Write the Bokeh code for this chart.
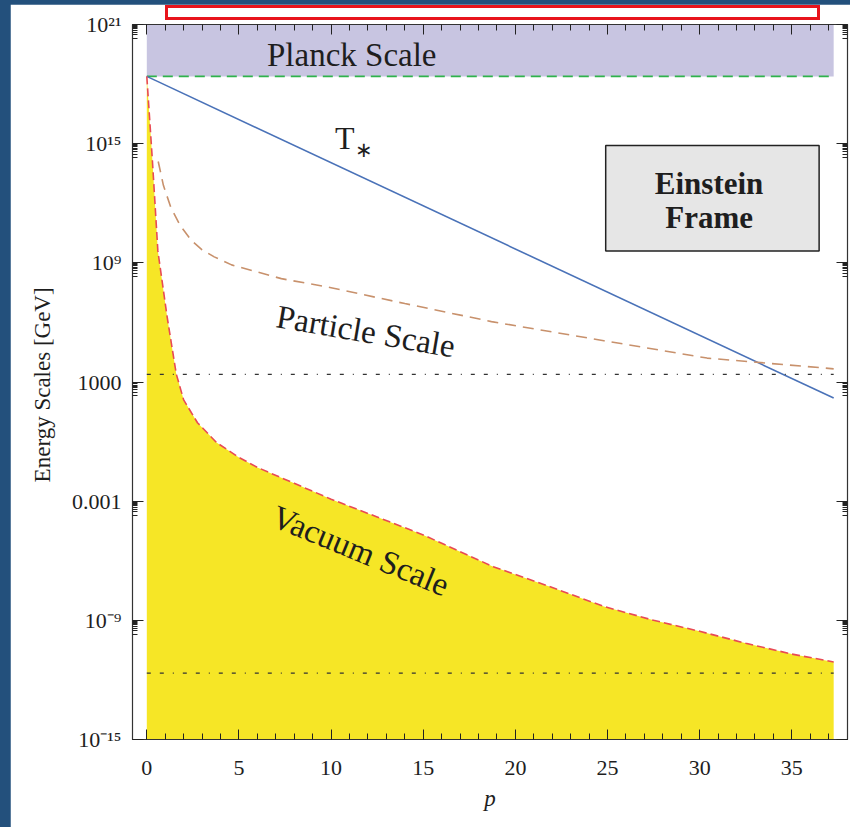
from bokeh.plotting import figure
from bokeh.models import (FixedTicker, LinearAxis, LogAxis, CustomJSTickFormatter,
                          Div, Range1d, Label)
from bokeh.layouts import column
from bokeh.embed import file_html
from bokeh.resources import INLINE

# ---------------- data ----------------
p_end = 37.27
planck_scale = 2.44e18
planck_top = 1e21

tstar_p = [0.0, 37.27]
tstar_val = [2.44e18, 155.0]

particle_p = [0.62, 0.9, 1.3, 1.8, 2.4, 3.0, 3.66, 4.6, 7.3, 10.0, 14.0, 18.7,
              24.8, 30.4, 37.27]
particle_val = [1.26e14, 8.0e12, 6.3e11, 8.0e10, 1.4e10, 4.5e9, 2.0e9, 7.9e8,
                1.6e8, 5.6e7, 8.9e6, 1.1e6, 1.2e5, 1.6e4, 4.6e3]

vacuum_p = [0.0, 0.1, 0.3, 0.6, 1.1, 1.6, 2.0, 2.75, 3.8, 5.0, 6.0, 8.0, 10.0,
            12.5, 15.0, 18.8, 22.0, 24.8, 27.5, 30.0, 32.5, 35.0, 37.27]
vacuum_val = [2.44e18, 1.0e17, 1.6e14, 4.0e9, 2.0e6, 2.5e3, 126.0, 8.9, 0.87,
              0.16, 0.05, 7.9e-3, 1.26e-3, 1.6e-4, 2.0e-5, 5.0e-7, 4.5e-8,
              5.0e-9, 1.0e-9, 2.8e-10, 7.0e-11, 2.0e-11, 8.0e-12]

tev_level = 2.4e3
de_level = 2.2e-12

xtick_values = [0, 5, 10, 15, 20, 25, 30, 35]
xminor_values = list(range(0, 39))
ytick_values = [1e-15, 1e-9, 1e-3, 1e3, 1e9, 1e15, 1e21]
ytick_labels = ["10\u207b\u00b9\u2075", "10\u207b\u2079", "0.001", "1000",
                "10\u2079", "10\u00b9\u2075", "10\u00b2\u00b9"]
yminor_values = [m * v / 10 for v in ytick_values for m in range(2, 10)]

SERIF = "Liberation Serif"
INK = "#1e1e1e"

# ---------------- figure ----------------
p = figure(width=840, height=823,
           x_range=Range1d(-0.776, 38.02), y_range=Range1d(1e-15, 1e21),
           y_axis_type="log", output_backend="svg", toolbar_location=None,
           min_border_left=122, min_border_right=3, min_border_top=20,
           min_border_bottom=88)
p.grid.visible = False
p.background_fill_color = "white"
p.border_fill_color = "white"
p.outline_line_color = "#333333"
p.outline_line_width = 1.2

xticker = FixedTicker(ticks=xtick_values, minor_ticks=xminor_values)
yticker = FixedTicker(ticks=ytick_values, minor_ticks=yminor_values)
yfmt = CustomJSTickFormatter(args=dict(vals=ytick_values, labels=ytick_labels), code="""
    let best = 0, d = 1e9;
    for (let i = 0; i < vals.length; i++) {
        const dd = Math.abs(Math.log10(vals[i]) - Math.log10(tick));
        if (dd < d) { d = dd; best = i; }
    }
    return labels[best];
""")
blank = CustomJSTickFormatter(code="return '';")

def style_ticks(ax):
    ax.axis_line_color = "#333333"
    ax.major_tick_line_color = "#222222"
    ax.minor_tick_line_color = "#222222"
    ax.major_tick_out = 0
    ax.minor_tick_out = 0

xa = p.xaxis[0]
xa.ticker = xticker
style_ticks(xa)
xa.major_tick_in = 10
xa.minor_tick_in = 6
xa.major_label_text_font = SERIF
xa.major_label_text_font_size = "22px"
xa.major_label_text_color = INK
xa.major_label_standoff = 21
xa.axis_label = "p"
xa.axis_label_text_font = SERIF
xa.axis_label_text_font_style = "italic"
xa.axis_label_text_font_size = "23px"
xa.axis_label_text_color = INK
xa.axis_label_standoff = 8

ya = p.yaxis[0]
ya.ticker = yticker
ya.formatter = yfmt
style_ticks(ya)
ya.major_tick_in = 11
ya.minor_tick_in = 5
ya.major_label_text_font = SERIF
ya.major_label_text_font_size = "22px"
ya.major_label_text_color = INK
ya.major_label_standoff = 11
ya.axis_label = "Energy Scales  [GeV]"
ya.axis_label_text_font = SERIF
ya.axis_label_text_font_style = "normal"
ya.axis_label_text_font_size = "23px"
ya.axis_label_text_color = INK
ya.axis_label_standoff = 14

top = LinearAxis(ticker=xticker, formatter=blank, major_label_standoff=0,
                 major_label_text_font_size="1px")
style_ticks(top)
top.major_tick_in = 10
top.minor_tick_in = 6
p.add_layout(top, "above")

right = LogAxis(ticker=yticker, formatter=blank, major_label_standoff=0,
                major_label_text_font_size="1px")
style_ticks(right)
right.major_tick_in = 11
right.minor_tick_in = 5
p.add_layout(right, "right")

# ---------------- marks ----------------
p.varea(x=[0.0, p_end], y1=[planck_scale, planck_scale], y2=[planck_top, planck_top],
        fill_color="#c8c5e1")
p.varea(x=vacuum_p, y1=[1e-15] * len(vacuum_p), y2=vacuum_val, fill_color="#f6e626")

p.line([0.0, p_end], [planck_scale, planck_scale], line_color="#2fb24c",
       line_width=1.6, line_dash="10 6")
p.line(tstar_p, tstar_val, line_color="#4a72b8", line_width=1.6)
p.line(particle_p, particle_val, line_color="#c8916c", line_width=1.6,
       line_dash="11 7")
p.line(vacuum_p, vacuum_val, line_color="#e84a55", line_width=1.6, line_dash="8 4")
p.line([0.0, p_end], [tev_level, tev_level], line_color="#333333", line_width=1.3,
       line_dash="4 9 4 9 1 9")
p.line([0.0, p_end], [de_level, de_level], line_color="#333333", line_width=1.3,
       line_dash="4 9 4 9 1 9")

p.quad(left=[24.9], right=[36.48], top=[10 ** 14.91], bottom=[10 ** 9.59],
       fill_color="#e6e6e6", line_color="#222222", line_width=1.5)

def lab(x, y, t, size, angle=0.0, bold=False):
    p.add_layout(Label(x=x, y=y, text=t, angle=angle, text_align="center",
                       text_baseline="middle", text_font=SERIF,
                       text_font_size=size, text_color=INK,
                       text_font_style="bold" if bold else "normal"))

lab(11.12, 10 ** 19.44, "Planck Scale", "33px")
lab(10.74, 10 ** 15.31, "T", "32px")
lab(11.8, 10 ** 14.66, "\u2217", "21px")
lab(11.88, 10 ** 5.55, "Particle Scale", "33px", angle=-0.17)
lab(11.6, 10 ** -5.5, "Vacuum Scale", "33px", angle=-0.39)
lab(30.51, 10 ** 13.0, "Einstein", "31px", bold=True)
lab(30.51, 10 ** 11.29, "Frame", "31px", bold=True)

# ---------------- page ----------------
redbox = Div(text="", styles={"position": "absolute", "left": "160px", "top": "0px",
                              "width": "655px", "height": "15px",
                              "box-sizing": "border-box",
                              "border": "3px solid #e8141c",
                              "background-color": "white", "z-index": "10"})
layout = column(p, redbox, styles={"background-color": "#23507c",
                                   "padding": "4px 0px 0px 10px",
                                   "position": "relative"})

open("out.html", "w").write(file_html(layout, INLINE))
